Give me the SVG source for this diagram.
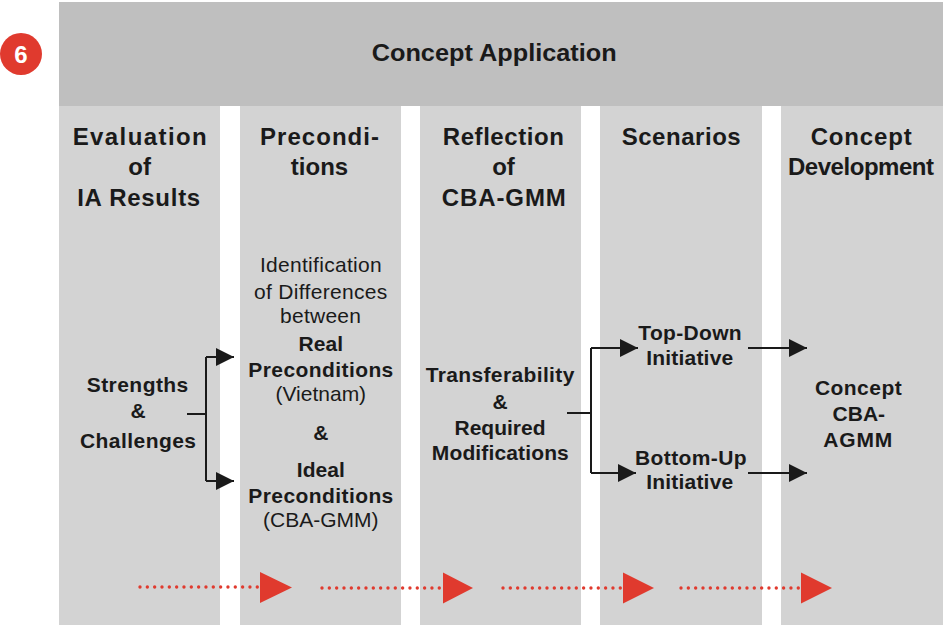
<svg xmlns="http://www.w3.org/2000/svg" width="943" height="625" viewBox="0 0 943 625">
  <style>
    .band { fill: #bfbfbf; }
    .col { fill: #d3d3d3; }
    text { font-family: "Liberation Sans", Arial, sans-serif; fill: #1a1a1a; text-anchor: middle; }
    .h { font-size: 24px; font-weight: bold; }
    .b { font-size: 21px; font-weight: bold; }
    .r { font-size: 21px; }
    .conn { stroke: #1a1a1a; stroke-width: 2; fill: none; }
    .dots { stroke: #e03a2e; stroke-width: 3.4; stroke-linecap: round; stroke-dasharray: 0 7.33; fill: none; }
    .tri { fill: #e03a2e; }
  </style>
  <defs>
    <marker id="ah" markerUnits="userSpaceOnUse" markerWidth="19" markerHeight="18" refX="18" refY="9" orient="auto">
      <path d="M0,0 L18,9 L0,18 z" fill="#1a1a1a"/>
    </marker>
  </defs>
  <rect width="943" height="625" fill="#ffffff"/>

  <g id="badge">
    <circle cx="21" cy="54" r="21" fill="#e03a2e"/>
    <text x="21" y="63" style="font-size:24px;font-weight:bold;fill:#ffffff">6</text>
  </g>

  <g id="concept-application">
    <rect class="band" x="59" y="2" width="884" height="104"/>
    <text class="h" x="494.2" y="60.5" textLength="245" lengthAdjust="spacingAndGlyphs">Concept Application</text>
  </g>

  <g id="col-evaluation">
    <rect class="col" x="59" y="106" width="161" height="519"/>
    <text class="h" x="139.7" y="144.5" textLength="134">Evaluation</text>
    <text class="h" x="139.7" y="175">of</text>
    <text class="h" x="138.7" y="205.7" textLength="123">IA Results</text>
    <text class="b" x="137.5" y="391.7" textLength="101.6">Strengths</text>
    <text class="b" x="138" y="418.3">&amp;</text>
    <text class="b" x="138" y="448.3" textLength="116">Challenges</text>
  </g>

  <g id="col-preconditions">
    <rect class="col" x="240" y="106" width="161" height="519"/>
    <text class="h" x="319.5" y="145" textLength="119">Precondi-</text>
    <text class="h" x="319.5" y="175">tions</text>
    <text class="r" x="320.8" y="271.7" textLength="121.7">Identification</text>
    <text class="r" x="320.7" y="299.3" textLength="133.3">of Differences</text>
    <text class="r" x="320.5" y="323.3" textLength="81">between</text>
    <text class="b" x="320.8" y="350.7">Real</text>
    <text class="b" x="320.8" y="376.7" textLength="145">Preconditions</text>
    <text class="r" x="320.8" y="401">(Vietnam)</text>
    <text class="b" x="320.8" y="440">&amp;</text>
    <text class="b" x="320.8" y="476.7">Ideal</text>
    <text class="b" x="320.8" y="503.3" textLength="145">Preconditions</text>
    <text class="r" x="320.8" y="527">(CBA-GMM)</text>
  </g>

  <g id="col-reflection">
    <rect class="col" x="420" y="106" width="161" height="519"/>
    <text class="h" x="503.3" y="145" textLength="121">Reflection</text>
    <text class="h" x="503.5" y="175">of</text>
    <text class="h" x="503.8" y="206" textLength="124">CBA-GMM</text>
    <text class="b" x="500" y="381.7" textLength="148.7">Transferability</text>
    <text class="b" x="500" y="409.3">&amp;</text>
    <text class="b" x="500" y="435">Required</text>
    <text class="b" x="500.3" y="460" textLength="137">Modifications</text>
  </g>

  <g id="col-scenarios">
    <rect class="col" x="600" y="106" width="162" height="519"/>
    <text class="h" x="681.2" y="145" textLength="119">Scenarios</text>
    <text class="b" x="690" y="340" textLength="103.4">Top-Down</text>
    <text class="b" x="689.7" y="365" textLength="87">Initiative</text>
    <text class="b" x="690.8" y="465" textLength="111.7">Bottom-Up</text>
    <text class="b" x="689.7" y="489.3" textLength="87">Initiative</text>
  </g>

  <g id="col-development">
    <rect class="col" x="781" y="106" width="162" height="519"/>
    <text class="h" x="861.2" y="145" textLength="101">Concept</text>
    <text class="h" x="861" y="175" textLength="146">Development</text>
    <text class="b" x="858.3" y="395" textLength="86.7">Concept</text>
    <text class="b" x="858.8" y="421">CBA-</text>
    <text class="b" x="857.8" y="446.7" textLength="69">AGMM</text>
  </g>

  <g id="connectors">
    <path class="conn" d="M187,414 H206 M206,357 V481"/>
    <path class="conn" d="M206,357 H234" marker-end="url(#ah)"/>
    <path class="conn" d="M206,481 H234" marker-end="url(#ah)"/>
    <path class="conn" d="M567,413 H591 M591,348 V473"/>
    <path class="conn" d="M591,348 H638" marker-end="url(#ah)"/>
    <path class="conn" d="M591,473 H636" marker-end="url(#ah)"/>
    <path class="conn" d="M748,348 H807" marker-end="url(#ah)"/>
    <path class="conn" d="M748,473 H807" marker-end="url(#ah)"/>
  </g>

  <g id="flow-arrows">
    <path class="dots" d="M140,587 H260"/>
    <path class="tri" d="M260,572 L292,587.5 L260,603 z"/>
    <path class="dots" d="M322,588 H443"/>
    <path class="tri" d="M443,572.5 L473,588 L443,603.5 z"/>
    <path class="dots" d="M503,588 H623"/>
    <path class="tri" d="M623,572.5 L654,588 L623,603.5 z"/>
    <path class="dots" d="M681,588 H801"/>
    <path class="tri" d="M801,572.5 L832,588 L801,603.5 z"/>
  </g>
</svg>
